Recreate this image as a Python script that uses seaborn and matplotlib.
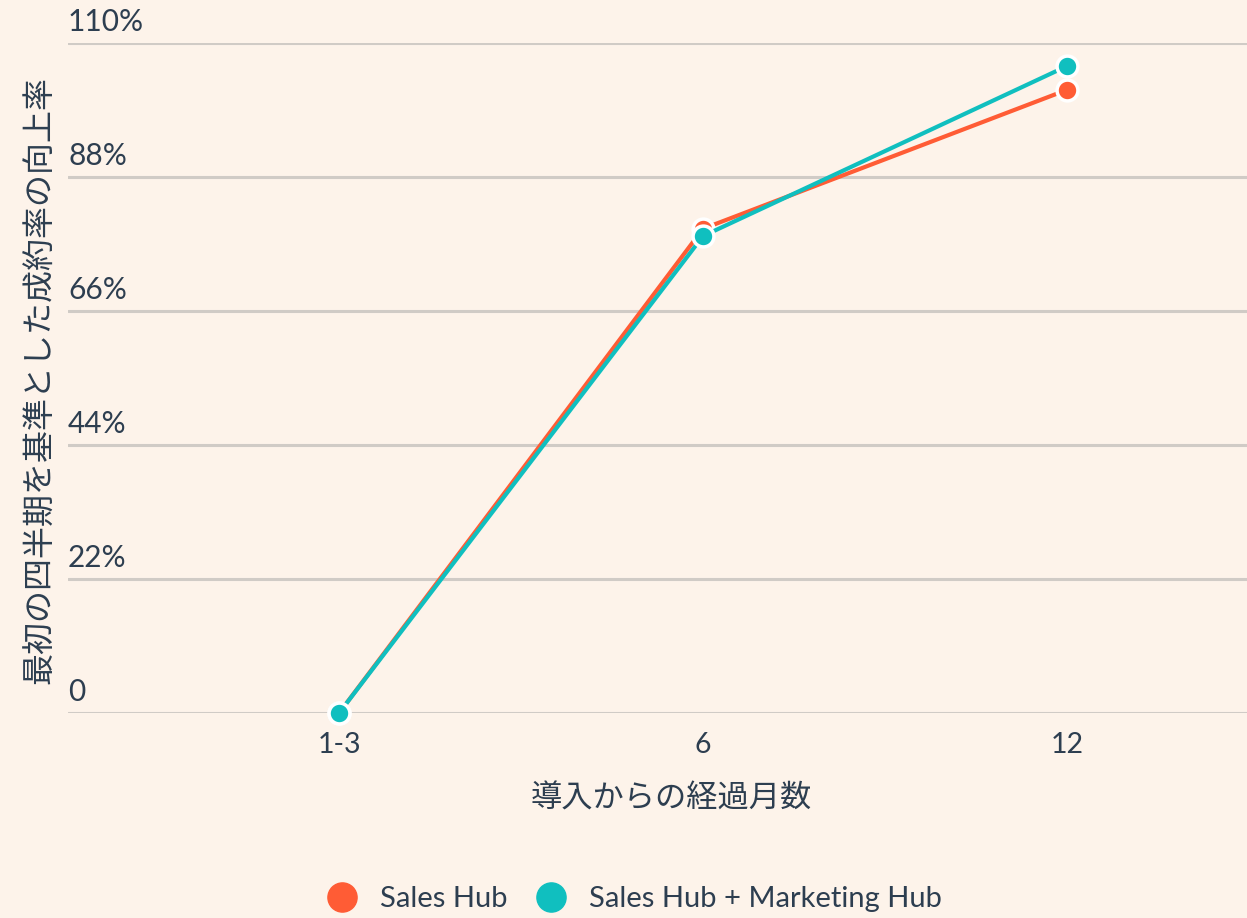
import pandas as pd
import seaborn as sns
import matplotlib.pyplot as plt
from matplotlib.lines import Line2D

# data
months = ['1-3', '6', '12']
sales_hub = [0, 79.5, 102.3]
sales_marketing_hub = [0, 78.3, 106.2]
series_names = ['Sales Hub', 'Sales Hub + Marketing Hub']
y_ticks = [0, 22, 44, 66, 88, 110]
y_tick_labels = ['0', '22%', '44%', '66%', '88%', '110%']

df = pd.DataFrame({
    'month': months * 2,
    'value': sales_hub + sales_marketing_hub,
    'series': [series_names[0]] * 3 + [series_names[1]] * 3,
})

bg = '#FDF3EA'
text_color = '#2D3E50'
colors = {series_names[0]: '#FF5C35', series_names[1]: '#10BFBF'}

sns.set_theme(style='white')
plt.rcParams['font.family'] = ['Lato', 'Noto Sans CJK JP', 'DejaVu Sans']

fig = plt.figure(figsize=(12.47, 9.18), dpi=100, facecolor=bg)
ax = fig.add_axes([68 / 1247, 205 / 918, 1 - 68 / 1247, 670 / 918])
ax.set_facecolor(bg)

sns.lineplot(data=df, x='month', y='value', hue='series', palette=colors,
             marker='o', markersize=15, markeredgecolor='white', markeredgewidth=2.5,
             linewidth=3, legend=False, ax=ax, clip_on=False, zorder=3)

ax.set_xlim(-0.745, 2.495)
ax.set_ylim(0, 110)
ax.set_yticks(y_ticks)
ax.set_yticklabels([])
ax.yaxis.grid(True, color='#D0CBC6', linewidth=2.2)
ax.xaxis.grid(False)
for s in ax.spines.values():
    s.set_visible(False)
ax.tick_params(axis='both', length=0)
ax.tick_params(axis='x', labelsize=20.5, labelcolor=text_color, pad=14)

# y tick labels sit above the gridlines, left aligned
for v, lab in zip(y_ticks, y_tick_labels):
    ax.text(0, v + 1.1, lab, transform=ax.get_yaxis_transform(), ha='left', va='bottom',
            fontsize=21.5, color=text_color)

ax.set_xlabel('導入からの経過月数', fontsize=22.5, color=text_color, labelpad=18)
ax.xaxis.label.set_x(0.512)
ax.set_ylabel('')
fig.text(40 / 1247, 1 - 380 / 918, '最初の四半期を基準とした成約率の向上率', rotation=90,
         ha='center', va='center', fontsize=23, color=text_color)

handles = [Line2D([], [], marker='o', linestyle='', markersize=21,
                  markerfacecolor=colors[n], markeredgecolor=colors[n]) for n in series_names]
fig.legend(handles, series_names, loc='lower center', bbox_to_anchor=(0.503, -0.022), ncol=2,
           frameon=False, fontsize=21, labelcolor=text_color, handletextpad=0.3,
           columnspacing=0.5)

plt.savefig('out.png', dpi=100, facecolor=bg)
